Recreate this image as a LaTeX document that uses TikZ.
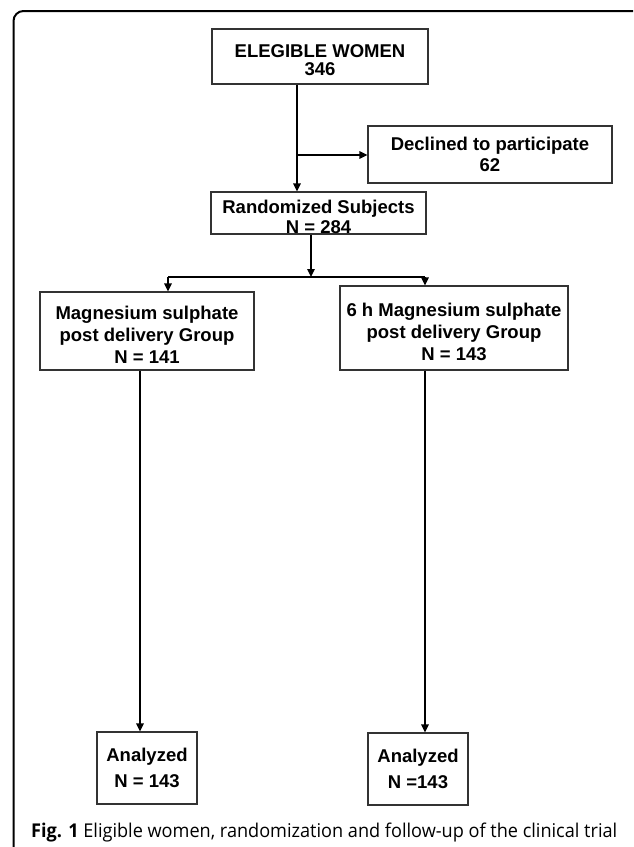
\documentclass[tikz,border=0pt]{standalone}
\usepackage{fontspec}
\setmainfont{Liberation Sans}
\newfontfamily\capfont{Open Sans}
\usetikzlibrary{arrows.meta,positioning}
\tikzset{>={Triangle[length=8pt,width=7.5pt]}}
\colorlet{boxColor}{black!80}
\newcommand\lift{\rule{0pt}{20.5pt}}
\tikzset{
  flowbox/.style={draw=boxColor,line width=1.2pt,align=center,inner sep=0pt,
    font=\fontsize{18.5}{21}\selectfont\bfseries},
  link/.style={->,line width=1.4pt},
}

\begin{document}
\begin{tikzpicture}[x=1pt,y=-1pt]
				\useasboundingbox (0,0) rectangle (633,847);
				\clip (0,0) rectangle (633,847);
				\draw [line width=2pt,rounded corners=10pt] (13.5,11) rectangle (650,858);
				
				\node [flowbox,minimum width=216pt,minimum height=55pt] (elig) at (320,56.5) {\lift ELEGIBLE WOMEN\\[-3pt]346};
				\node [flowbox,minimum width=244pt,minimum height=57pt] (decl) at (490,154.5) {Declined to participate\\62};
				\node [flowbox,minimum width=215pt,minimum height=42pt] (rand) at (318.5,213) {\lift Randomized Subjects\\[-1pt]N = 284};
				\node [flowbox,minimum width=214pt,minimum height=78pt] (magA) at (147,331) {\lift Magnesium sulphate\\[1pt]post delivery Group\\[1pt]N = 141};
				\node [flowbox,minimum width=228pt,minimum height=84pt] (magB) at (454,328) {\lift 6 h Magnesium sulphate\\[1pt]post delivery Group\\[1pt]N = 143};
				\node [flowbox,minimum width=100pt,minimum height=72pt] (anaA) at (147,768) {Analyzed\\[5pt]N = 143};
				\node [flowbox,minimum width=100pt,minimum height=72pt] (anaB) at (418,769) {Analyzed\\[5pt]N =143};
				
				\coordinate (split) at (297,155);
				\coordinate (fork) at (311,277);
				\coordinate (forkL) at (168,277);
				\coordinate (forkR) at (425,277);
				\coordinate (dropA) at (140,0);
				\coordinate (dropB) at (425,0);
				
				\draw [line width=1.4pt] (elig.south -| split) -- (split);
				\draw [link] (split) -- (rand.north -| split);
				\draw [link] (split) -- (split -| decl.west);
				\draw [link] (rand.south -| fork) -- (fork);
				\draw [line width=2.6pt] (forkL) -- (forkR);
				\draw [link] (forkL) -- (magA.north -| forkL);
				\draw [link] (forkR) -- (magB.north -| forkR);
				\draw [link] (magA.south -| dropA) -- (anaA.north -| dropA);
				\draw [link] (magB.south -| dropB) -- (anaB.north -| dropB);
				
				%caption
				\node [anchor=base west,inner sep=0pt,font=\capfont\fontsize{19}{22}\selectfont] (cap) at (31,837) {\resizebox{586pt}{\height}{\textbf{Fig. 1} Eligible women, randomization and follow-up of the clinical trial}};
\end{tikzpicture}
\end{document}
